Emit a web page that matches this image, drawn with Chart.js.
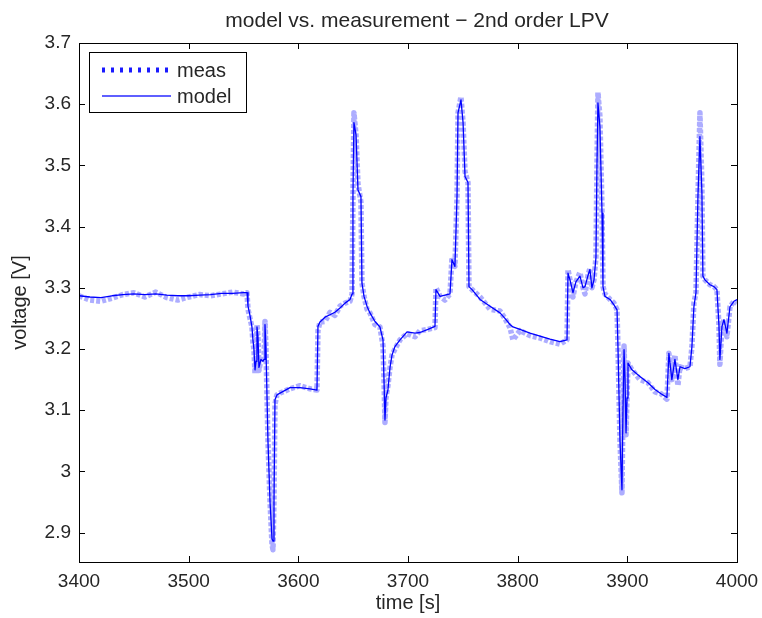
<!DOCTYPE html>
<html lang="en">
<head>
<meta charset="UTF-8">
<title>model vs. measurement - 2nd order LPV</title>
<script src="https://cdn.jsdelivr.net/npm/chart.js"></script>
<style>
  html, body { margin: 0; padding: 0; background: #fff; }
  #wrap { width: 762px; height: 618px; position: relative; }
</style>
</head>
<body>
<div id="wrap"><canvas id="lpvChart"></canvas></div>
<script>
// time [s]
const time = [
  3400, 3410, 3420, 3430, 3440, 3450, 3460, 3470, 3480, 3490,
  3500, 3510, 3520, 3530, 3540, 3550, 3553.2, 3554.1, 3555.9, 3557.7,
  3558.6, 3559.5, 3560.5, 3561.4, 3562.3, 3563.2, 3564.1, 3565.9, 3567.8, 3568.7,
  3569.6, 3570.5, 3572.3, 3574.2, 3576.0, 3576.9, 3577.8, 3578.7, 3580.5, 3583.3,
  3592.4, 3601.5, 3610.6, 3617.0, 3617.9, 3619.7, 3624.3, 3628.9, 3633.4, 3638.0,
  3642.6, 3647.1, 3649.0, 3649.8, 3650.7, 3652.6, 3654.4, 3657.1, 3658.0, 3659.9,
  3662.6, 3665.3, 3669.9, 3674.4, 3677.2, 3678.1, 3679.0, 3679.9, 3681.7, 3683.6,
  3685.4, 3688.1, 3692.7, 3699.1, 3706.4, 3710.9, 3718.2, 3724.6, 3725.5, 3729.2,
  3733.7, 3738.3, 3740.1, 3742.8, 3744.7, 3745.6, 3748.3, 3750.2, 3752.0, 3754.7,
  3755.6, 3758.4, 3765.7, 3774.8, 3783.9, 3788.4, 3793.0, 3795.7, 3802.1, 3811.2,
  3820.3, 3829.5, 3838.6, 3845.0, 3845.9, 3847.7, 3850.4, 3853.2, 3856.8, 3859.6,
  3861.4, 3864.1, 3865.9, 3867.7, 3869.6, 3871.4, 3872.3, 3873.2, 3875.0, 3876.9,
  3877.8, 3879.6, 3884.2, 3887.8, 3890.6, 3891.5, 3893.3, 3895.1, 3896.0, 3897.0,
  3897.9, 3898.8, 3899.7, 3900.6, 3904.2, 3911.5, 3918.8, 3925.2, 3930.7, 3936.1,
  3937.9, 3940.6, 3943.4, 3946.1, 3948.0, 3952.5, 3957.1, 3958.9, 3960.7, 3962.6,
  3964.4, 3966.2, 3968.0, 3968.9, 3970.8, 3975.3, 3979.0, 3981.7, 3983.5, 3984.4,
  3986.3, 3988.1, 3990.8, 3993.6, 3997.2, 4000.0
];

// voltage [V], measured
const meas = [
  3.287, 3.280, 3.278, 3.283, 3.289, 3.292, 3.285, 3.293, 3.284, 3.280,
  3.285, 3.289, 3.287, 3.290, 3.293, 3.290, 3.292, 3.265, 3.250, 3.236,
  3.210, 3.200, 3.160, 3.180, 3.240, 3.220, 3.165, 3.183, 3.180, 3.183,
  3.245, 3.200, 3.050, 2.950, 2.880, 2.872, 2.950, 3.110, 3.125, 3.128,
  3.135, 3.140, 3.135, 3.133, 3.230, 3.244, 3.245, 3.260, 3.255, 3.270,
  3.275, 3.278, 3.290, 3.450, 3.586, 3.550, 3.470, 3.440, 3.308, 3.286,
  3.265, 3.259, 3.240, 3.236, 3.205, 3.150, 3.080, 3.120, 3.140, 3.170,
  3.190, 3.200, 3.215, 3.225, 3.220, 3.230, 3.232, 3.235, 3.300, 3.286,
  3.280, 3.290, 3.350, 3.335, 3.450, 3.586, 3.612, 3.570, 3.490, 3.472,
  3.302, 3.297, 3.285, 3.265, 3.262, 3.250, 3.235, 3.215, 3.230, 3.222,
  3.218, 3.212, 3.208, 3.215, 3.330, 3.313, 3.285, 3.310, 3.325, 3.300,
  3.290, 3.320, 3.332, 3.300, 3.313, 3.350, 3.500, 3.619, 3.580, 3.430,
  3.302, 3.290, 3.281, 3.275, 3.264, 3.200, 3.050, 2.965, 3.100, 3.205,
  3.150, 3.060, 3.120, 3.177, 3.166, 3.150, 3.145, 3.130, 3.127, 3.118,
  3.193, 3.150, 3.190, 3.140, 3.171, 3.168, 3.171, 3.204, 3.275, 3.292,
  3.450, 3.586, 3.470, 3.319, 3.313, 3.305, 3.302, 3.297, 3.240, 3.175,
  3.237, 3.248, 3.220, 3.269, 3.278, 3.275
];

// voltage [V], model
const model = [
  3.287, 3.285, 3.284, 3.287, 3.289, 3.290, 3.289, 3.290, 3.288, 3.287,
  3.287, 3.288, 3.289, 3.291, 3.291, 3.292, 3.292, 3.270, 3.255, 3.236,
  3.215, 3.200, 3.166, 3.180, 3.236, 3.220, 3.170, 3.183, 3.180, 3.183,
  3.240, 3.200, 3.050, 2.950, 2.890, 2.886, 2.950, 3.117, 3.125, 3.128,
  3.137, 3.137, 3.135, 3.133, 3.237, 3.244, 3.252, 3.256, 3.260, 3.267,
  3.275, 3.281, 3.290, 3.450, 3.570, 3.550, 3.460, 3.449, 3.308, 3.286,
  3.270, 3.259, 3.245, 3.236, 3.215, 3.150, 3.084, 3.120, 3.133, 3.170,
  3.190, 3.204, 3.215, 3.228, 3.226, 3.227, 3.232, 3.237, 3.297, 3.286,
  3.288, 3.290, 3.346, 3.335, 3.450, 3.586, 3.607, 3.570, 3.482, 3.472,
  3.302, 3.297, 3.281, 3.270, 3.259, 3.250, 3.240, 3.236, 3.232, 3.226,
  3.221, 3.216, 3.212, 3.215, 3.324, 3.313, 3.292, 3.310, 3.319, 3.300,
  3.302, 3.320, 3.330, 3.300, 3.313, 3.350, 3.500, 3.602, 3.563, 3.422,
  3.302, 3.286, 3.281, 3.272, 3.264, 3.200, 3.050, 2.970, 3.100, 3.199,
  3.150, 3.063, 3.120, 3.177, 3.166, 3.155, 3.145, 3.134, 3.127, 3.121,
  3.193, 3.150, 3.183, 3.150, 3.171, 3.168, 3.171, 3.204, 3.269, 3.292,
  3.450, 3.547, 3.455, 3.319, 3.313, 3.305, 3.302, 3.297, 3.240, 3.183,
  3.237, 3.248, 3.226, 3.269, 3.278, 3.281
];

const xTicks = [3400, 3500, 3600, 3700, 3800, 3900, 4000];
const yTicks = [2.9, 3, 3.1, 3.2, 3.3, 3.4, 3.5, 3.6, 3.7];

const FONT = 'Liberation Sans, Arial, Helvetica, sans-serif';
const TXT = '#262626';

// MATLAB-like box with inward ticks, title and legend
const matlabFrame = {
  id: 'matlabFrame',
  afterDraw(chart) {
    const ctx = chart.ctx;
    const a = chart.chartArea;
    const xs = chart.scales.x, ys = chart.scales.y;
    const tl = 6;
    ctx.save();
    ctx.strokeStyle = '#000';
    ctx.lineWidth = 1;
    ctx.strokeRect(Math.round(a.left) + 0.5, Math.round(a.top) + 0.5,
                   Math.round(a.right - a.left), Math.round(a.bottom - a.top));
    ctx.beginPath();
    xs.ticks.forEach(t => {
      const px = Math.round(xs.getPixelForValue(t.value)) + 0.5;
      ctx.moveTo(px, a.bottom); ctx.lineTo(px, a.bottom - tl);
      ctx.moveTo(px, a.top); ctx.lineTo(px, a.top + tl);
    });
    ys.ticks.forEach(t => {
      const py = Math.round(ys.getPixelForValue(t.value)) + 0.5;
      ctx.moveTo(a.left, py); ctx.lineTo(a.left + tl, py);
      ctx.moveTo(a.right, py); ctx.lineTo(a.right - tl, py);
    });
    ctx.stroke();

    // title
    ctx.fillStyle = TXT;
    ctx.font = '21px ' + FONT;
    ctx.textAlign = 'center';
    ctx.textBaseline = 'alphabetic';
    ctx.fillText('model vs. measurement \u2212 2nd order LPV', (a.left + a.right) / 2 + 9, 27);

    // legend
    const bx = a.left + 10, by = a.top + 9, bw = 157, bh = 60;
    ctx.fillStyle = '#fff';
    ctx.fillRect(bx, by, bw, bh);
    ctx.strokeStyle = '#000';
    ctx.strokeRect(bx + 0.5, by + 0.5, bw, bh);
    const rows = [
      { label: chart.data.datasets[0].label, y: by + 18, dash: [3, 6], w: 5, c: '#1a1aff' },
      { label: chart.data.datasets[1].label, y: by + 44, dash: [], w: 1.5, c: '#2a2aff' }
    ];
    rows.forEach(r => {
      ctx.beginPath();
      ctx.setLineDash(r.dash);
      ctx.lineWidth = r.w;
      ctx.strokeStyle = r.c;
      ctx.moveTo(bx + 13, r.y);
      ctx.lineTo(bx + 82, r.y);
      ctx.stroke();
      ctx.setLineDash([]);
      ctx.fillStyle = TXT;
      ctx.font = '20px ' + FONT;
      ctx.textAlign = 'left';
      ctx.textBaseline = 'middle';
      ctx.fillText(r.label, bx + 88, r.y + 1);
    });
    ctx.restore();
  }
};

new Chart(document.getElementById('lpvChart'), {
  type: 'line',
  data: {
    datasets: [
      {
        label: 'meas',
        data: time.map((t, i) => ({ x: t, y: meas[i] })),
        borderColor: 'rgba(60, 60, 255, 0.42)',
        borderWidth: 5.5,
        borderDash: [4, 2],
        borderJoinStyle: 'round',
        pointRadius: 0,
        tension: 0,
        order: 2
      },
      {
        label: 'model',
        data: time.map((t, i) => ({ x: t, y: model[i] })),
        borderColor: '#0000ff',
        borderWidth: 1.3,
        borderJoinStyle: 'round',
        pointRadius: 0,
        tension: 0,
        order: 1
      }
    ]
  },
  options: {
    responsive: true,
    maintainAspectRatio: false,
    animation: false,
    layout: { padding: { top: 43, right: 25, bottom: 0, left: 0 } },
    plugins: {
      legend: { display: false },
      tooltip: { enabled: false }
    },
    scales: {
      x: {
        type: 'linear',
        min: 3400,
        max: 4000,
        afterBuildTicks: s => { s.ticks = xTicks.map(v => ({ value: v })); },
        afterFit: s => { s.height = 56; s.paddingLeft = 0; s.paddingRight = 0; },
        grid: { drawOnChartArea: false, drawTicks: false },
        border: { display: false },
        ticks: { color: TXT, font: { family: FONT, size: 19 }, padding: 8, maxRotation: 0, callback: v => String(v) },
        title: { display: true, text: 'time [s]', color: TXT, font: { family: FONT, size: 20 }, padding: { top: 0, bottom: 3 } }
      },
      y: {
        min: 2.852,
        max: 3.7,
        afterBuildTicks: s => { s.ticks = yTicks.map(v => ({ value: v })); },
        afterFit: s => { s.width = 79; },
        grid: { drawOnChartArea: false, drawTicks: false },
        border: { display: false },
        ticks: { color: TXT, font: { family: FONT, size: 19 }, padding: 8, callback: v => String(v) },
        title: { display: true, text: 'voltage [V]', color: TXT, font: { family: FONT, size: 20 }, padding: { top: 8, bottom: 0 } }
      }
    }
  },
  plugins: [matlabFrame]
});
</script>
</body>
</html>
